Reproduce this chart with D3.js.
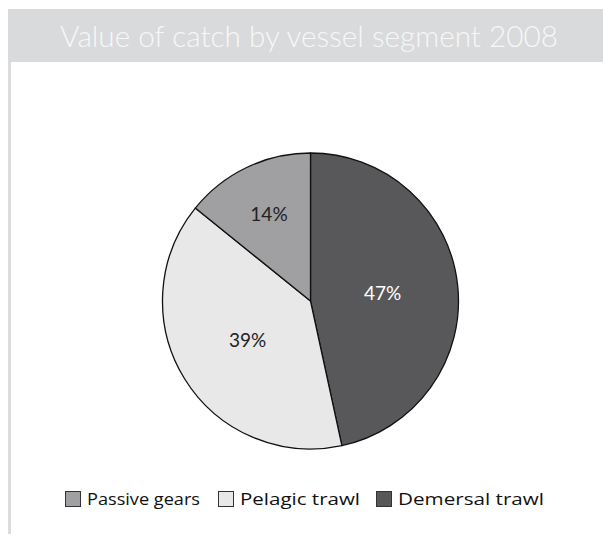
<!DOCTYPE html>
<html><head><meta charset="utf-8">
<script src="https://cdn.jsdelivr.net/npm/d3@7"></script>
<style>body{margin:0;background:#fff}svg{display:block}</style>
</head><body>
<svg id="c" width="603" height="534"></svg>
<script>
const title = "Value of catch by vessel segment 2008";
const categories = ["Demersal trawl", "Pelagic trawl", "Passive gears"];
const values = [46.6, 39.2, 14.2];
const legendOrder = ["Passive gears", "Pelagic trawl", "Demersal trawl"];
const colors = {"Demersal trawl": "#58585a", "Pelagic trawl": "#e8e8e8", "Passive gears": "#a0a0a2"};
const labelColors = {"Demersal trawl": "#ffffff", "Pelagic trawl": "#222", "Passive gears": "#222"};
const labelRadius = {"Demersal trawl": 0.49, "Pelagic trawl": 0.5, "Passive gears": 0.65};

const svg = d3.select("#c");
const font = "Lato, 'Open Sans', sans-serif";
const legendFont = "'Open Sans', Lato, sans-serif";

// frame
svg.append("rect").attr("x", 8).attr("y", 9).attr("width", 595).attr("height", 53).attr("fill", "#d9dadc");
svg.append("rect").attr("x", 8).attr("y", 62).attr("width", 3).attr("height", 472).attr("fill", "#dcdcdc");
svg.append("text").attr("x", 60).attr("y", 47)
  .attr("textLength", 498).attr("lengthAdjust", "spacingAndGlyphs")
  .attr("font-family", font).attr("font-size", 30).attr("font-weight", 300).attr("fill", "#f7f7f7")
  .text(title);

const data = categories.map((c, i) => ({cat: c, value: values[i]}));
const cx = 310.5, cy = 301, r = 148;
const pie = d3.pie().sort(null).value(d => d.value);
const arc = d3.arc().innerRadius(0).outerRadius(r);
const arcs = pie(data);
const g = svg.append("g").attr("transform", `translate(${cx},${cy})`);
g.selectAll("path").data(arcs).join("path")
  .attr("d", arc).attr("fill", d => colors[d.data.cat])
  .attr("stroke", "#111").attr("stroke-width", 1.3).attr("stroke-linejoin", "round");

g.selectAll("text").data(arcs).join("text")
  .attr("transform", d => {
    const k = labelRadius[d.data.cat] * r;
    return `translate(${d3.arc().innerRadius(k).outerRadius(k).centroid(d)})`;
  })
  .attr("text-anchor", "middle").attr("dy", "0.35em")
  .attr("font-family", font).attr("font-size", 19).attr("fill", d => labelColors[d.data.cat])
  .text(d => Math.round(d.data.value) + "%");

// legend
const legendX = {"Passive gears": 65, "Pelagic trawl": 218, "Demersal trawl": 376};
const legendW = {"Passive gears": 113, "Pelagic trawl": 120, "Demersal trawl": 146};
const lg = svg.append("g");
legendOrder.forEach(c => {
  lg.append("rect").attr("x", legendX[c] + 0.5).attr("y", 491.5).attr("width", 15).attr("height", 15)
    .attr("fill", colors[c]).attr("stroke", "#333").attr("stroke-width", 1);
  lg.append("text").attr("x", legendX[c] + 22).attr("y", 505)
    .attr("textLength", legendW[c]).attr("lengthAdjust", "spacingAndGlyphs")
    .attr("font-family", legendFont).attr("font-size", 17).attr("fill", "#111").text(c);
});
</script>
</body></html>
